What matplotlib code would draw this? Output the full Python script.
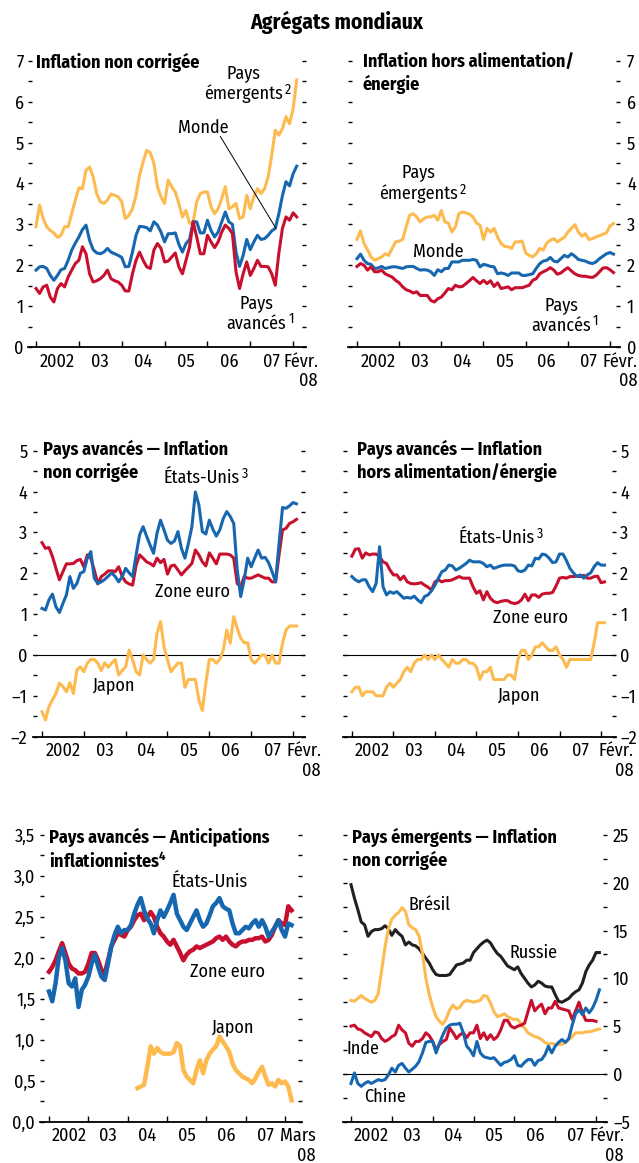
import matplotlib
matplotlib.use("Agg")
import matplotlib.pyplot as plt
from matplotlib import font_manager
import pandas as pd


#Fonts: a condensed family looks closest to the original
installed = {f.name for f in font_manager.fontManager.ttflist}
base_font = "DejaVu Sans"
for name in ["Fira Sans Condensed", "IBM Plex Sans Condensed", "Liberation Sans Narrow", "Liberation Sans"]:
    if name in installed:
        base_font = name
        break
plt.rcParams['font.family'] = [base_font, 'DejaVu Sans']
plt.rcParams['mathtext.fontset'] = 'custom'
plt.rcParams['mathtext.rm'] = base_font
plt.rcParams['mathtext.bf'] = base_font + ':bold'

YELLOW = '#FDBA4F'
BLUE = '#1767B0'
RED = '#C8102E'
BLACK = '#231F20'

#Monthly dates (decimal years)
months = pd.date_range('2002-01-01', '2008-02-01', freq='MS')
t = months.year + (months.month - 1) / 12
months5 = pd.date_range('2002-01-01', '2008-03-01', freq='MS')
t5 = months5.year + (months5.month - 1) / 12
months_jp5 = pd.date_range('2004-04-01', '2008-03-01', freq='MS')
t_jp5 = months_jp5.year + (months_jp5.month - 1) / 12
months_in = pd.date_range('2002-01-01', '2008-01-01', freq='MS')
t_in = months_in.year + (months_in.month - 1) / 12

year_labels = ["2002", "03", "04", "05", "06", "07"]

#Panel 1: headline inflation
p1_emerging = [2.94, 3.47, 3.14, 2.94, 2.85, 2.79, 2.68, 2.73, 2.94, 2.94, 3.26, 3.59,
               3.89, 3.87, 4.32, 4.40, 4.16, 3.75, 3.55, 3.51, 3.59, 3.74, 3.71, 3.67,
               3.55, 3.14, 3.22, 3.38, 3.71, 4.20, 4.53, 4.81, 4.75, 4.49, 3.92, 3.67,
               3.51, 4.08, 3.92, 3.79, 3.51, 3.18, 3.34, 3.02, 3.06, 3.55, 3.75, 3.79,
               3.79, 3.43, 3.26, 3.38, 3.63, 3.92, 3.38, 3.43, 3.51, 3.14, 3.18, 3.71,
               3.38, 3.67, 3.87, 3.75, 3.87, 4.16, 4.69, 5.30, 5.18, 5.34, 5.63, 5.46,
               5.83, 6.53]
p1_world = [1.88, 1.96, 1.97, 1.92, 1.75, 1.63, 1.75, 1.89, 1.92, 2.12, 2.37, 2.54,
            2.69, 2.87, 2.98, 2.61, 2.38, 2.30, 2.28, 2.32, 2.41, 2.32, 2.28, 2.24,
            2.19, 1.96, 1.97, 2.32, 2.73, 2.95, 2.94, 2.92, 2.84, 3.06, 2.98, 2.81,
            2.57, 2.77, 2.77, 2.79, 2.51, 2.32, 2.53, 2.63, 3.06, 3.06, 2.79, 2.79,
            3.10, 2.85, 2.69, 2.81, 3.06, 3.30, 3.06, 3.00, 2.32, 1.97, 2.24, 2.63,
            2.38, 2.57, 2.73, 2.63, 2.65, 2.73, 2.84, 2.90, 3.26, 3.70, 4.04, 3.94,
            4.24, 4.42]
p1_advanced = [1.43, 1.31, 1.47, 1.51, 1.22, 1.10, 1.43, 1.55, 1.47, 1.71, 1.88, 2.04,
               2.12, 2.45, 2.28, 1.79, 1.59, 1.62, 1.67, 1.75, 1.88, 1.67, 1.62, 1.59,
               1.51, 1.37, 1.37, 1.79, 2.12, 2.32, 2.12, 1.96, 1.92, 2.37, 2.53, 2.41,
               2.08, 2.10, 2.20, 2.30, 1.96, 1.79, 2.12, 2.45, 3.06, 2.69, 2.28, 2.28,
               2.73, 2.57, 2.43, 2.57, 2.81, 2.98, 2.90, 2.77, 1.84, 1.43, 1.79, 2.08,
               1.75, 1.92, 2.12, 1.97, 1.97, 1.96, 1.79, 1.51, 2.30, 2.90, 3.18, 3.10,
               3.28, 3.18]

#Panel 2: core inflation
p2_emerging = [2.63, 2.84, 2.53, 2.38, 2.20, 2.12, 2.16, 2.20, 2.28, 2.24, 2.41, 2.57,
               2.59, 2.63, 2.94, 3.22, 3.26, 3.18, 3.06, 3.14, 3.18, 3.18, 3.22, 3.10,
               3.34, 3.06, 3.03, 2.81, 2.94, 3.26, 3.30, 3.28, 3.25, 3.18, 3.03, 2.98,
               2.63, 2.90, 2.81, 2.90, 2.69, 2.53, 2.46, 2.45, 2.41, 2.57, 2.57, 2.59,
               2.30, 2.24, 2.20, 2.28, 2.41, 2.37, 2.54, 2.61, 2.65, 2.57, 2.63, 2.68,
               2.81, 2.90, 2.99, 2.81, 2.71, 2.77, 2.63, 2.65, 2.69, 2.72, 2.76, 2.79,
               2.96, 3.02]
p2_world = [2.16, 2.27, 2.12, 2.04, 2.02, 1.92, 1.93, 1.97, 1.92, 1.94, 1.96, 1.96,
            1.94, 1.92, 1.96, 1.97, 1.97, 1.92, 1.88, 1.89, 1.88, 1.84, 1.75, 1.89,
            1.84, 1.92, 1.92, 2.08, 2.08, 2.08, 2.12, 2.12, 2.12, 2.14, 2.12, 1.96,
            2.02, 2.00, 1.97, 1.96, 1.79, 1.81, 1.79, 1.75, 1.81, 1.81, 1.81, 1.75,
            1.75, 1.77, 1.79, 1.92, 2.04, 2.10, 2.12, 2.19, 2.10, 2.08, 2.16, 2.24,
            2.20, 2.28, 2.22, 2.14, 2.12, 2.10, 2.06, 2.04, 2.08, 2.16, 2.22, 2.28,
            2.31, 2.27]
p2_advanced = [1.97, 2.04, 2.00, 1.88, 1.96, 1.84, 1.84, 1.88, 1.79, 1.75, 1.71, 1.63,
               1.57, 1.47, 1.40, 1.37, 1.32, 1.35, 1.26, 1.26, 1.26, 1.14, 1.10, 1.18,
               1.22, 1.32, 1.43, 1.40, 1.51, 1.47, 1.48, 1.55, 1.62, 1.70, 1.62, 1.55,
               1.63, 1.55, 1.62, 1.48, 1.57, 1.43, 1.45, 1.47, 1.40, 1.45, 1.45, 1.45,
               1.48, 1.51, 1.63, 1.67, 1.79, 1.84, 1.88, 1.94, 1.88, 1.78, 1.81, 1.88,
               1.94, 1.86, 1.79, 1.75, 1.73, 1.73, 1.71, 1.70, 1.75, 1.84, 1.93, 1.94,
               1.89, 1.82]

#Panel 3: advanced economies headline
p3_us = [1.14, 1.10, 1.35, 1.49, 1.18, 1.04, 1.26, 1.47, 1.92, 1.63, 1.75, 2.00,
         2.04, 2.37, 2.53, 1.88, 1.75, 1.79, 1.85, 1.93, 2.01, 1.92, 1.79, 1.92,
         2.12, 2.01, 1.92, 2.45, 2.94, 3.14, 2.91, 2.69, 2.49, 2.98, 3.30, 3.06,
         2.81, 2.73, 2.79, 3.02, 2.61, 2.37, 2.73, 3.14, 3.99, 3.67, 3.02, 2.96,
         3.30, 3.08, 2.91, 3.06, 3.34, 3.51, 3.39, 3.22, 2.08, 1.43, 1.84, 2.37,
         2.16, 2.37, 2.57, 2.37, 2.39, 2.26, 2.04, 1.79, 2.73, 3.61, 3.59, 3.65,
         3.73, 3.70]
p3_euro = [2.75, 2.61, 2.63, 2.41, 2.12, 1.84, 2.04, 2.23, 2.23, 2.24, 2.31, 2.34,
           2.16, 2.45, 2.37, 2.08, 1.74, 1.92, 1.98, 2.06, 2.06, 2.04, 2.16, 1.92,
           1.79, 1.74, 1.71, 2.20, 2.45, 2.37, 2.28, 2.24, 2.18, 2.37, 2.26, 2.34,
           1.98, 2.18, 2.20, 2.08, 1.96, 2.06, 2.15, 2.24, 2.57, 2.45, 2.28, 2.18,
           2.50, 2.37, 2.23, 2.47, 2.47, 2.47, 2.45, 2.37, 1.75, 1.67, 1.92, 1.88,
           1.88, 1.92, 1.96, 1.92, 1.88, 1.88, 1.79, 1.79, 2.45, 3.06, 3.10, 3.22,
           3.26, 3.32]
p3_japan = [-1.39, -1.59, -1.26, -1.10, -0.94, -0.69, -0.77, -0.90, -0.68, -0.94, -0.37, -0.29,
            -0.41, -0.20, -0.11, -0.11, -0.20, -0.38, -0.19, -0.30, -0.20, -0.11, -0.49, -0.38,
            -0.29, 0.12, -0.12, -0.41, -0.49, 0.00, -0.11, -0.20, -0.11, 0.53, 0.82, 0.20,
            -0.12, -0.41, -0.30, -0.20, -0.20, -0.79, -0.60, -0.60, -0.60, -1.10, -1.36, -0.69,
            -0.11, -0.11, -0.20, -0.11, 0.12, 0.61, 0.29, 0.94, 0.65, 0.41, 0.30, 0.30,
            -0.11, -0.20, -0.11, 0.00, 0.00, -0.20, 0.00, -0.20, -0.20, 0.29, 0.61, 0.71,
            0.71, 0.71]

#Panel 4: advanced economies core
p4_us = [1.92, 1.84, 1.79, 1.84, 1.84, 1.67, 1.55, 1.75, 2.65, 1.67, 1.47, 1.55,
         1.51, 1.55, 1.47, 1.39, 1.41, 1.39, 1.44, 1.35, 1.28, 1.43, 1.47, 1.57,
         1.71, 1.88, 2.04, 2.08, 2.20, 2.18, 2.08, 2.12, 2.18, 2.24, 2.32, 2.28,
         2.28, 2.28, 2.24, 2.16, 2.20, 2.12, 2.15, 2.18, 2.20, 2.20, 2.20, 2.18,
         2.06, 2.04, 2.08, 2.20, 2.18, 2.37, 2.35, 2.47, 2.45, 2.37, 2.26, 2.28,
         2.47, 2.47, 2.31, 2.12, 2.01, 1.92, 1.96, 1.88, 1.96, 2.01, 2.16, 2.26,
         2.20, 2.20]
p4_euro = [2.42, 2.59, 2.60, 2.37, 2.50, 2.45, 2.47, 2.47, 2.41, 2.28, 2.24, 2.08,
           1.96, 1.96, 1.84, 1.93, 1.79, 1.75, 1.74, 1.75, 1.77, 1.71, 1.66, 1.59,
           1.79, 1.84, 1.79, 1.82, 1.82, 1.84, 1.88, 1.92, 1.88, 1.88, 1.88, 1.67,
           1.51, 1.57, 1.35, 1.55, 1.39, 1.31, 1.28, 1.31, 1.33, 1.33, 1.28, 1.26,
           1.28, 1.35, 1.49, 1.33, 1.47, 1.47, 1.41, 1.49, 1.51, 1.51, 1.53, 1.69,
           1.88, 1.90, 1.88, 1.92, 1.92, 1.93, 1.92, 1.95, 1.88, 1.88, 1.92, 1.93,
           1.77, 1.79]
p4_japan = [-0.90, -0.79, -0.79, -1.00, -0.90, -0.90, -0.90, -1.00, -1.00, -1.00, -0.79, -0.69,
            -0.79, -0.69, -0.60, -0.41, -0.30, -0.41, -0.20, -0.11, -0.11, 0.00, -0.11, 0.00,
            -0.11, 0.00, -0.11, -0.20, -0.30, -0.11, -0.20, -0.20, -0.11, -0.11, -0.20, -0.20,
            -0.30, -0.60, -0.41, -0.41, -0.30, -0.60, -0.60, -0.60, -0.60, -0.49, -0.49, -0.60,
            -0.11, 0.11, 0.11, -0.11, 0.00, 0.20, 0.20, 0.30, 0.20, 0.11, 0.11, 0.20,
            0.00, -0.11, -0.30, -0.11, -0.11, -0.11, -0.11, -0.11, -0.11, -0.11, 0.29, 0.79,
            0.79, 0.79]

#Panel 5: inflation expectations (to March 2008)
p5_us = [1.59, 1.47, 1.69, 2.01, 2.12, 1.97, 1.69, 1.65, 1.75, 1.40, 1.61, 1.67,
         1.77, 1.93, 2.04, 1.89, 1.77, 1.73, 1.93, 2.14, 2.28, 2.38, 2.30, 2.34,
         2.34, 2.40, 2.54, 2.65, 2.73, 2.58, 2.48, 2.42, 2.30, 2.46, 2.58, 2.50,
         2.58, 2.67, 2.77, 2.54, 2.46, 2.38, 2.34, 2.42, 2.50, 2.58, 2.46, 2.38,
         2.42, 2.52, 2.63, 2.67, 2.73, 2.63, 2.60, 2.58, 2.42, 2.30, 2.30, 2.34,
         2.38, 2.36, 2.42, 2.46, 2.38, 2.46, 2.38, 2.26, 2.32, 2.38, 2.46, 2.34,
         2.26, 2.42, 2.40]
p5_euro = [1.83, 1.89, 1.97, 2.08, 2.18, 2.06, 1.93, 1.87, 1.85, 1.81, 1.81, 1.83,
           1.93, 2.06, 2.06, 1.97, 1.85, 1.81, 1.97, 2.14, 2.22, 2.30, 2.28, 2.26,
           2.34, 2.38, 2.46, 2.52, 2.54, 2.46, 2.50, 2.56, 2.50, 2.38, 2.30, 2.26,
           2.20, 2.16, 2.22, 2.14, 2.06, 1.97, 2.04, 2.08, 2.10, 2.14, 2.12, 2.14,
           2.16, 2.18, 2.20, 2.24, 2.26, 2.22, 2.26, 2.20, 2.16, 2.14, 2.18, 2.20,
           2.20, 2.22, 2.22, 2.24, 2.24, 2.26, 2.20, 2.22, 2.28, 2.38, 2.46, 2.42,
           2.40, 2.63, 2.58]
p5_japan = [0.41, 0.43, 0.45, 0.67, 0.92, 0.83, 0.90, 0.85, 0.83,
            0.83, 0.83, 0.85, 0.96, 0.92, 0.63, 0.55, 0.51, 0.47, 0.63, 0.75, 0.59,
            0.75, 0.83, 0.88, 0.92, 1.04, 0.98, 0.92, 0.85, 0.71, 0.63, 0.59, 0.55,
            0.53, 0.51, 0.47, 0.53, 0.61, 0.67, 0.55, 0.45, 0.47, 0.43, 0.51, 0.47,
            0.49, 0.43, 0.26]

#Panel 6: emerging economies headline
p6_russia = [19.8, 18.4, 17.2, 15.9, 15.6, 14.4, 14.9, 15.1, 15.1, 15.2, 15.5, 15.2,
             14.5, 15.1, 14.7, 14.4, 13.5, 13.8, 13.5, 13.4, 13.1, 12.6, 12.1, 11.6,
             10.9, 10.4, 10.3, 10.3, 10.3, 10.4, 10.9, 11.4, 11.5, 11.6, 11.9, 11.9,
             12.7, 13.1, 13.5, 13.8, 14.0, 13.7, 13.1, 12.6, 12.3, 11.8, 11.3, 11.1,
             10.9, 11.2, 10.5, 10.0, 9.5, 9.1, 9.3, 9.7, 9.5, 9.2, 9.1, 9.1,
             8.3, 7.6, 7.5, 7.7, 7.9, 8.3, 8.6, 8.8, 9.5, 10.7, 11.4, 11.9,
             12.7, 12.7]
p6_brazil = [7.7, 7.6, 7.9, 8.2, 7.9, 7.7, 7.5, 7.7, 8.4, 10.8, 13.3, 15.2,
             16.2, 16.6, 16.9, 17.4, 17.0, 15.6, 15.3, 15.1, 14.4, 12.6, 10.0, 8.3,
             7.0, 6.0, 5.5, 5.2, 5.8, 6.7, 7.2, 6.8, 7.0, 7.5, 7.7, 7.6,
             7.5, 7.6, 7.7, 8.2, 8.1, 7.4, 6.5, 6.0, 6.1, 6.3, 6.0, 5.8,
             5.7, 5.7, 5.2, 4.8, 4.3, 4.1, 3.9, 3.8, 3.6, 3.3, 3.1, 3.2,
             3.1, 3.1, 3.1, 3.3, 3.6, 3.9, 4.3, 4.3, 4.3, 4.4, 4.4, 4.5,
             4.6, 4.7]
p6_india = [5.0, 5.1, 4.7, 4.6, 4.3, 4.1, 3.9, 4.4, 4.3, 3.7, 3.4, 3.6,
            3.9, 4.1, 5.1, 4.6, 4.3, 3.2, 2.9, 3.4, 3.4, 3.7, 4.3, 4.0,
            3.4, 2.5, 3.1, 3.4, 3.6, 4.8, 4.3, 3.7, 4.1, 4.3, 3.8, 4.3,
            4.3, 5.1, 3.7, 4.3, 3.6, 4.1, 3.6, 3.9, 4.6, 5.6, 5.6, 5.0,
            4.8, 5.0, 5.1, 5.3, 6.5, 7.7, 6.6, 7.0, 7.3, 6.3, 6.9, 6.9,
            7.6, 6.9, 6.8, 6.7, 6.6, 5.7, 6.6, 7.5, 6.4, 5.6, 5.6, 5.6,
            5.5]
p6_china = [-1.0, 0.1, -1.0, -1.3, -1.0, -0.8, -1.0, -0.8, -0.6, -0.7, -0.6, -0.1,
            0.6, 0.2, 0.9, 1.1, 0.6, 0.2, 0.5, 0.8, 1.3, 2.2, 3.3, 3.4,
            3.4, 2.2, 3.2, 4.1, 4.8, 5.1, 5.2, 5.2, 5.3, 4.3, 2.9, 2.5,
            1.9, 3.4, 2.2, 1.8, 1.7, 1.6, 1.7, 1.3, 0.9, 1.2, 1.3, 1.5,
            1.9, 0.9, 0.8, 1.2, 1.5, 1.5, 0.9, 1.4, 1.5, 2.0, 2.9, 2.2,
            2.9, 3.3, 3.6, 3.3, 3.7, 5.1, 6.3, 6.7, 6.2, 6.9, 6.4, 6.9,
            7.7, 8.8]


#Figure and axes placed in pixels to match the original page
W, H = 639, 1163
fig = plt.figure(figsize=(W / 100, H / 100), dpi=100)


def px_axes(left, right, top, bottom):
    return fig.add_axes([left / W, 1 - bottom / H, (right - left) / W, (bottom - top) / H])


def setup(ax, xlim, ylim, major, minor, ylabels, side, pad, last_label, last_x):
    ax.set_xlim(*xlim)
    ax.set_ylim(*ylim)
    for s in ['left', 'right', 'top']:
        ax.spines[s].set_visible(False)
    ax.spines['bottom'].set_linewidth(1.3)
    ax.set_facecolor('none')

    #y ticks on both sides, labels on one
    ax.set_yticks(major)
    ax.set_yticks(minor, minor=True)
    ax.set_yticklabels(ylabels)
    ax.tick_params(axis='y', which='both', direction='in', length=3.2, width=1.0,
                   left=True, right=True, labelsize=13, pad=pad,
                   labelleft=(side == 'left'), labelright=(side == 'right'))

    #x ticks at year boundaries, labels in the middle of each year
    ax.set_xticks(range(2002, 2009))
    ax.set_xticklabels([])
    ax.set_xticks([y + 0.5 for y in range(2002, 2008)] + [last_x], minor=True)
    ax.set_xticklabels(year_labels + [last_label], minor=True)
    ax.tick_params(axis='x', which='major', direction='in', length=4, width=1.0)
    ax.tick_params(axis='x', which='minor', length=0, labelsize=13, pad=4)
    for lab in ax.get_xticklabels(minor=True):
        lab.set_multialignment('right')
        lab.set_linespacing(1.1)


LW = 2.2
TXT = 13


#Series label with a footnote number raised after its last line
def sup_label(ax, x, y, text, sup):
    tx = ax.text(x, y, text, fontsize=TXT, ha='center', va='center')
    ax.annotate(sup, xy=(1, 0), xycoords=tx, xytext=(1.5, 9.5), textcoords='offset points',
                fontsize=10, ha='left', va='center')


#Panel 1
ax1 = px_axes(28, 306, 60.7, 347)
setup(ax1, (2001.813, 2008.30), (0, 7), range(0, 8), [i + 0.5 for i in range(7)],
      [str(i) for i in range(8)], 'left', 3, "Févr.\n08", 2008.175)
ax1.plot(t, p1_emerging, color=YELLOW, lw=LW)
ax1.plot(t, p1_world, color=BLUE, lw=LW)
ax1.plot(t, p1_advanced, color=RED, lw=LW)
ax1.text(2002.0, 7.19, "Inflation non corrigée", fontsize=TXT, fontweight='bold', va='top', ha='left')
sup_label(ax1, 2006.84, 6.44, "Pays\némergents", "2")
ax1.text(2005.90, 5.36, "Monde", fontsize=TXT, ha='center', va='center')
ax1.annotate('', xy=(2007.6, 2.9), xytext=(2006.3, 5.15),
             arrowprops=dict(arrowstyle='-', lw=0.7, color='black', shrinkA=0, shrinkB=0))
sup_label(ax1, 2007.14, 0.83, "Pays\navancés", "1")

#Panel 2
ax2 = px_axes(348, 620, 60.7, 347)
setup(ax2, (2001.787, 2008.237), (0, 7), range(0, 8), [i + 0.5 for i in range(7)],
      [str(i) for i in range(8)], 'right', 5, "Févr.\n08", 2008.23)
ax2.plot(t, p2_emerging, color=YELLOW, lw=LW)
ax2.plot(t, p2_world, color=BLUE, lw=LW)
ax2.plot(t, p2_advanced, color=RED, lw=LW)
ax2.text(2002.14, 7.19, "Inflation hors alimentation/\nénergie", fontsize=TXT, fontweight='bold',
         va='top', ha='left', linespacing=1.25)
sup_label(ax2, 2003.45, 4.01, "Pays\némergents", "2")
ax2.text(2003.92, 2.32, "Monde", fontsize=TXT, ha='center', va='center')
sup_label(ax2, 2006.84, 0.78, "Pays\navancés", "1")

#Panel 3
neg_labels = ['–2', '–1', '0', '1', '2', '3', '4', '5']
ax3 = px_axes(33, 305, 450.7, 736.7)
setup(ax3, (2001.785, 2008.287), (-2, 5), range(-2, 6), [i + 0.5 for i in range(-2, 5)],
      neg_labels, 'left', 4, "Févr.\n08", 2008.25)
ax3.axhline(0, color='black', lw=0.8)
ax3.plot(t, p3_japan, color=YELLOW, lw=LW)
ax3.plot(t, p3_euro, color=RED, lw=LW)
ax3.plot(t, p3_us, color=BLUE, lw=LW)
ax3.text(2002.02, 5.26, "Pays avancés — Inflation\nnon corrigée", fontsize=TXT, fontweight='bold',
         va='top', ha='left', linespacing=1.25)
sup_label(ax3, 2005.81, 4.33, "États-Unis", "3")
ax3.text(2005.59, 1.54, "Zone euro", fontsize=TXT, ha='center', va='center')
ax3.text(2003.70, -0.73, "Japon", fontsize=TXT, ha='center', va='center')

#Panel 4
ax4 = px_axes(343, 616, 450.7, 736.7)
setup(ax4, (2001.786, 2008.286), (-2, 5), range(-2, 6), [i + 0.5 for i in range(-2, 5)],
      neg_labels, 'right', 3, "Févr.\n08", 2008.36)
ax4.axhline(0, color='black', lw=0.8)
ax4.plot(t, p4_japan, color=YELLOW, lw=LW)
ax4.plot(t, p4_euro, color=RED, lw=LW)
ax4.plot(t, p4_us, color=BLUE, lw=LW)
ax4.text(2002.12, 5.26, "Pays avancés — Inflation\nhors alimentation/énergie", fontsize=TXT,
         fontweight='bold', va='top', ha='left', linespacing=1.25)
sup_label(ax4, 2005.48, 2.86, "États-Unis", "3")
ax4.text(2006.29, 0.90, "Zone euro", fontsize=TXT, ha='center', va='center')
ax4.text(2006.0, -0.98, "Japon", fontsize=TXT, ha='center', va='center')

#Panel 5
ax5 = px_axes(40, 302, 835, 1121.7)
p5_major = [i * 0.5 for i in range(8)]
setup(ax5, (2001.771, 2008.432), (0, 3.5), p5_major, [i * 0.5 + 0.25 for i in range(7)],
      [f"{v:.1f}".replace('.', ',') for v in p5_major], 'left', 3.5, "Mars\n08", 2008.33)
ax5.plot(t_jp5, p5_japan, color=YELLOW, lw=3.2)
ax5.plot(t5, p5_euro, color=RED, lw=3.2)
ax5.plot(t5, p5_us, color=BLUE, lw=3.2)
ax5.text(2002.0, 3.585, "Pays avancés — Anticipations\ninflationnistes$^{\\mathbf{4}}$", fontsize=TXT,
         fontweight='bold', va='top', ha='left', linespacing=1.25)
ax5.text(2006.09, 2.93, "États-Unis", fontsize=TXT, ha='center', va='center')
ax5.text(2006.53, 1.83, "Zone euro", fontsize=TXT, ha='center', va='center')
ax5.text(2006.65, 1.16, "Japon", fontsize=TXT, ha='center', va='center')

#Panel 6
ax6 = px_axes(343, 607, 835, 1121.7)
setup(ax6, (2001.804, 2008.269), (-5, 25), range(-5, 30, 5), [i + 2.5 for i in range(-5, 25, 5)],
      ['–5', '0', '5', '10', '15', '20', '25'], 'right', 4.3, "Févr.\n08", 2008.26)
ax6.axhline(0, color='black', lw=0.8)
ax6.plot(t, p6_russia, color=BLACK, lw=LW)
ax6.plot(t, p6_brazil, color=YELLOW, lw=LW)
ax6.plot(t_in, p6_india, color=RED, lw=LW)
ax6.plot(t, p6_china, color=BLUE, lw=LW)
ax6.text(2002.02, 25.73, "Pays émergents — Inflation\nnon corrigée", fontsize=TXT, fontweight='bold',
         va='top', ha='left', linespacing=1.25)
ax6.text(2003.93, 17.68, "Brésil", fontsize=TXT, ha='center', va='center')
ax6.text(2006.46, 12.65, "Russie", fontsize=TXT, ha='center', va='center')
ax6.text(2002.29, 2.61, "Inde", fontsize=TXT, ha='center', va='center')
ax6.text(2002.83, -2.41, "Chine", fontsize=TXT, ha='center', va='center')

#Main title
fig.text(337 / W, 1 - 22 / H, "Agrégats mondiaux", fontsize=15.5, fontweight='bold',
         ha='center', va='center')

fig.savefig("out.png", dpi=100)
